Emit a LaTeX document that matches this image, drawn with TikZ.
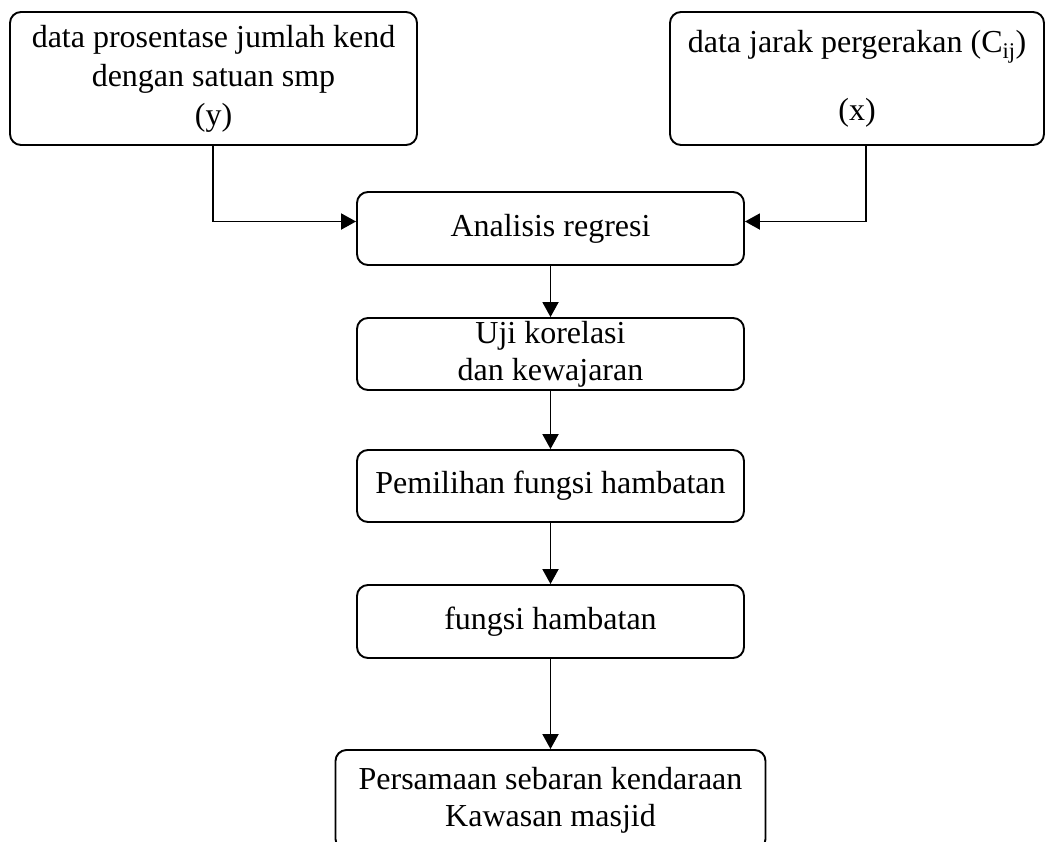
\documentclass[tikz,border=0pt]{standalone}
\usepackage{fontspec}
\setmainfont{Liberation Serif}
\usetikzlibrary{arrows.meta}

\tikzset{
  flowbox/.style={draw, line width=1.9pt, rounded corners=11pt, align=center,
    inner sep=0pt, font=\fontsize{32}{37}\selectfont},
  flowarrow/.style={line width=1.9pt, -{Triangle[length=15pt,width=16pt]}}
}

\begin{document}
\begin{tikzpicture}[x=1pt, y=-1pt]
  \useasboundingbox (0,0) rectangle (1046,841);
  \clip (0,0) rectangle (1046,841);

  % input data boxes
  \node[flowbox, minimum width=407pt, minimum height=133pt,
        font=\fontsize{32}{39}\selectfont] (b1) at (213.5,78.5)
    {data prosentase jumlah kend\\dengan satuan smp\\(y)};
  \node[flowbox, minimum width=374pt, minimum height=133pt] (b2) at (857,78.5)
    {data jarak pergerakan (C\textsubscript{ij})\\[31pt](x)};

  % processing chain
  \node[flowbox, minimum width=387pt, minimum height=73pt] (ana) at (550.5,228.5)
    {Analisis regresi};
  \node[flowbox, minimum width=387pt, minimum height=72pt] (uji) at (550.5,354)
    {Uji korelasi\\dan kewajaran};
  \node[flowbox, minimum width=387pt, minimum height=72pt] (pem) at (550.5,486)
    {Pemilihan fungsi hambatan};
  \node[flowbox, minimum width=387pt, minimum height=73pt] (fun) at (550.5,621.5)
    {fungsi hambatan};
  \node[flowbox, minimum width=430pt, minimum height=100pt] (per) at (550.5,800)
    {Persamaan sebaran kendaraan\\Kawasan masjid};

  % joints of the two input connectors
  \coordinate (lj) at (213,221.5);
  \coordinate (rj) at (866,221.5);

  \draw[flowarrow] (b1.south -| lj) -- (lj) -- (lj -| ana.west);
  \draw[flowarrow] (b2.south -| rj) -- (rj) -- (rj -| ana.east);

  \draw[flowarrow] (ana.south) -- (uji.north);
  \draw[flowarrow] (uji.south) -- (pem.north);
  \draw[flowarrow] (pem.south) -- (fun.north);
  \draw[flowarrow] (fun.south) -- (per.north);
\end{tikzpicture}
\end{document}
